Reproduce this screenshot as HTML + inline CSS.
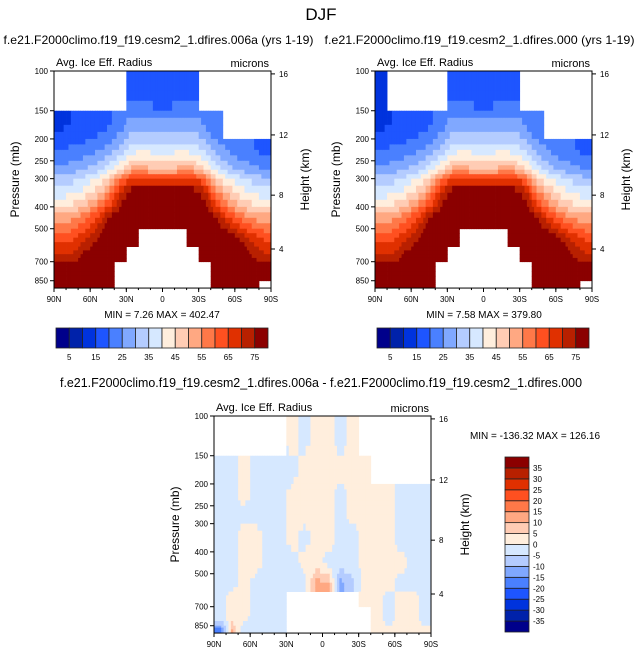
<!DOCTYPE html>
<html><head><meta charset="utf-8">
<style>
html,body{margin:0;padding:0;background:#fff;}
svg{display:block;font-family:"Liberation Sans",sans-serif;}
</style></head>
<body>
<svg id="fig" width="643" height="658" viewBox="0 0 643 658">
<text x="321" y="20" font-size="17" text-anchor="middle">DJF</text>
</svg>
<script>
const NS="http://www.w3.org/2000/svg";
const svg=document.getElementById('fig');
const N=null;
// pressure band boundaries (mb)
const pBounds=[100,150,200,250,300,400,500,600,700,850,916];
// latitude cell centers, 90N -> 90S (deg, N positive)
const lats=[85,75,65,55,45,35,25,15,5,-5,-15,-25,-35,-45,-55,-65,-75,-85];
const pTicks=[100,150,200,250,300,400,500,700,850];
const latTicks=[90,60,30,0,-30,-60,-90];
const latTickLabels=["90N","60N","30N","0","30S","60S","90S"];
const hTicks=[16,12,8,4];
const hTickP=[103,192,355,615];
const colors=["#00008b","#0022aa","#0033dd","#1e55ff","#4a80ff","#80a8ff","#b4ccff","#d6e8ff","#ffeedd","#ffccb4","#ffa882","#ff7848","#ff5020","#e03000","#b82000","#8b0000"];
const levelsA=[5,10,15,20,25,30,35,40,45,50,55,60,65,70,75];
const levelsD=[-35,-30,-25,-20,-15,-10,-5,0,5,10,15,20,25,30,35];
const dataA=[
[N,N,N,N,N,N,18,17,15,15,17,18,N,N,N,N,N,N],
[14,15,16,17,19,22,28,27,27,27,27,28,24,20,N,N,N,N],
[20,21,22,24,27,32,38,39,38,38,39,38,34,28,24,21,20,18],
[27,28,30,33,38,45,52,52,50,50,52,52,46,38,32,29,27,25],
[37,39,42,47,55,70,80,80,80,80,80,80,72,56,48,43,39,37],
[52,54,58,65,75,80,80,80,80,80,80,80,80,75,65,58,54,52],
[62,64,68,74,80,80,80,N,N,N,N,80,80,80,80,74,68,64],
[70,70,76,80,80,80,N,N,N,N,N,N,80,80,80,80,74,70],
[80,78,80,80,80,N,N,N,N,N,N,N,N,80,80,80,80,78],
[80,80,80,80,80,N,N,N,N,N,N,N,N,80,80,80,80,N]];
const dataB=[
[12,N,N,N,N,N,18,17,15,15,17,18,N,N,N,N,N,N],
[14,15,16,17,19,22,28,27,27,27,27,28,24,20,N,N,N,N],
[20,21,22,24,27,32,38,39,38,38,39,38,34,28,24,21,20,18],
[27,28,30,33,38,45,52,52,50,50,52,52,46,38,32,29,27,25],
[37,39,42,47,55,70,80,80,80,80,80,80,72,56,48,43,39,37],
[52,54,58,65,75,80,80,80,80,80,80,80,80,75,65,58,54,52],
[62,64,68,74,80,80,80,N,N,N,N,80,80,80,80,74,68,64],
[70,70,76,80,80,80,N,N,N,N,N,N,80,80,80,80,74,70],
[80,78,80,80,80,N,N,N,N,N,N,N,N,80,80,80,80,78],
[80,80,80,80,80,N,N,N,N,N,N,N,N,80,80,80,80,N]];
const dataD=[
[N,N,N,N,N,N,2,-2,2,2,-2,2,N,N,N,N,N,N],
[-2,-2,2,-2,-2,-2,-2,2,2,2,2,2,2,N,N,N,N,N],
[-2,-2,2,-2,-2,-2,2,2,2,2,-2,2,2,2,2,-2,-2,-2],
[-2,-2,-2,-2,-2,-2,2,2,2,2,-2,2,2,2,2,-2,-2,-2],
[-2,-2,2,2,-2,-2,2,-2,2,2,-2,-2,2,2,2,-2,-2,-2],
[-2,-2,2,2,-2,-2,-2,2,2,-2,-2,-2,2,2,2,2,-2,-2],
[-2,-2,2,-2,-2,-2,-4,-2,12,10,-12,-6,2,2,2,-2,-2,-2],
[-2,2,2,-2,-2,-2,N,N,N,N,N,N,2,2,-2,2,2,-2],
[-2,2,2,-2,-2,-2,N,N,N,N,N,N,N,2,-2,2,2,-2],
[-20,10,-5,-2,-2,-2,N,N,N,N,N,N,N,2,2,2,2,2]];

function el(tag,attrs,parent){const e=document.createElementNS(NS,tag);for(const k in attrs)e.setAttribute(k,attrs[k]);(parent||svg).appendChild(e);return e;}
function txt(x,y,s,size,anchor,parent){const t=el('text',{x:x,y:y,'font-size':size,'text-anchor':anchor||'start'},parent);t.textContent=s;return t;}
function colorFor(v,levels){let i=0;while(i<levels.length&&v>=levels[i])i++;return colors[i];}
function sample(data,rf,cf){
  const r0=Math.floor(rf),c0=Math.floor(cf);const wr=rf-r0,wc=cf-c0;
  let s=0,ws=0;
  [[r0,c0,(1-wr)*(1-wc)],[r0+1,c0,wr*(1-wc)],[r0,c0+1,(1-wr)*wc],[r0+1,c0+1,wr*wc]].forEach(([r,c,w])=>{
    if(r<0||c<0||r>=data.length||c>=data[0].length)return;const v=data[r][c];if(v===null)return;s+=v*w;ws+=w;});
  return ws>0?s/ws:null;
}

function panel(x0,y0,w,name,data,levels,title){
  const g=el('g',{});
  
  
  const k=98;
  const yP=p=>y0+k*Math.log(p/100);
  const xL=l=>x0+(90-l)/180*w;
  const yb=yP(916);
  const SC=5,SR=4;
  for(let r=0;r<data.length;r++){
    for(let c=0;c<lats.length;c++){
      if(data[r][c]===null)continue;
      const xa=xL(lats[c]+5),xb=xL(lats[c]-5);
      const ya=yP(pBounds[r]),yB=yP(pBounds[r+1]);
      for(let i=0;i<SC;i++)for(let j=0;j<SR;j++){
        const cf=c-0.5+(i+0.5)/SC, rf=r-0.5+(j+0.5)/SR;
        const v=sample(data,rf,cf);if(v===null)continue;
        const sx=xa+(xb-xa)*i/SC, sy=ya+(yB-ya)*j/SR;
        el('rect',{x:sx.toFixed(2),y:sy.toFixed(2),width:((xb-xa)/SC+0.4).toFixed(2),height:((yB-ya)/SR+0.4).toFixed(2),fill:colorFor(v,levels)},g);
      }
    }
  }
  const fr=el('rect',{x:x0,y:y0,width:w,height:yb-y0,fill:'none',stroke:'#000','stroke-width':1},g);
  
  
  pTicks.forEach(p=>{const y=yP(p);el('line',{x1:x0-4,x2:x0,y1:y,y2:y,stroke:'#000'},g);
    const t=txt(x0-6,y+3,String(p),8,'end',g);});
  latTicks.forEach((l,i)=>{const x=xL(l);el('line',{x1:x,x2:x,y1:yb,y2:yb+4,stroke:'#000'},g);
    const t=txt(x,yb+14,latTickLabels[i],8,'middle',g);});
  for(let l=80;l>=-80;l-=10){const x=xL(l);el('line',{x1:x,x2:x,y1:yb,y2:yb+2,stroke:'#000'},g);}
  hTicks.forEach((h,i)=>{const y=yP(hTickP[i]);el('line',{x1:x0+w,x2:x0+w+4,y1:y,y2:y,stroke:'#000'},g);
    const t=txt(x0+w+8,y+3,String(h),8,'start',g);});
  let t=txt(x0+2,y0-5,'Avg. Ice Eff. Radius',11,'start',g);
  t=txt(x0+w-2,y0-4,'microns',11,'end',g);
  t=txt(0,0,'Pressure (mb)',12,'middle',g);t.setAttribute('transform',`translate(${x0-35},${(y0+yb)/2}) rotate(-90)`);
  t=txt(0,0,'Height (km)',12,'middle',g);t.setAttribute('transform',`translate(${x0+w+38},${(y0+yb)/2}) rotate(-90)`);
  if(title){t=txt(x0+w/2-4,y0-27,title,12,'middle',g);t.setAttribute('textLength','310');t.setAttribute('lengthAdjust','spacingAndGlyphs');}
  return g;
}
function hbar(x0,y0,w,h,labels){
  const g=el('g',{});
  
  
  const bw=w/16;
  colors.forEach((c,i)=>{el('rect',{x:x0+i*bw,y:y0,width:bw,height:h,fill:c,stroke:'#222','stroke-width':0.8},g);});
  labels.forEach((s,i)=>{const t=txt(x0+(2*i+1)*bw,y0+h+12,s,8,'middle',g);});
}
function vbar(x0,y0,w,h,labels){
  const g=el('g',{});
  
  
  const bh=h/16;
  colors.forEach((c,i)=>{el('rect',{x:x0,y:y0+(15-i)*bh,width:w,height:bh,fill:c,stroke:'#222','stroke-width':0.8},g);});
  labels.forEach((s,i)=>{const t=txt(x0+w+4,y0+(15-i-1)*bh+bh+3,s,8,'start',g);});
}
panel(54,71,217,'panel-006a',dataA,levelsA,'f.e21.F2000climo.f19_f19.cesm2_1.dfires.006a (yrs 1-19)');
panel(375,71,217,'panel-000',dataB,levelsA,'f.e21.F2000climo.f19_f19.cesm2_1.dfires.000 (yrs 1-19)');
panel(214,416,217,'panel-difference',dataD,levelsD,'');
let t;
t=txt(321,387,'f.e21.F2000climo.f19_f19.cesm2_1.dfires.006a - f.e21.F2000climo.f19_f19.cesm2_1.dfires.000',13,'middle');
t.setAttribute('textLength','522');t.setAttribute('lengthAdjust','spacingAndGlyphs');

t=txt(162,318,'MIN =   7.26  MAX = 402.47',10,'middle');
t=txt(484,318,'MIN =   7.58  MAX = 379.80',10,'middle');
t=txt(535,439,'MIN = -136.32  MAX = 126.16',10,'middle');
const barLabels=["5","15","25","35","45","55","65","75"];
hbar(56,328,212,20,barLabels);
hbar(377,328,212,20,barLabels);
vbar(505,457,24,175,levelsD.map(String));
</script>
</body></html>
